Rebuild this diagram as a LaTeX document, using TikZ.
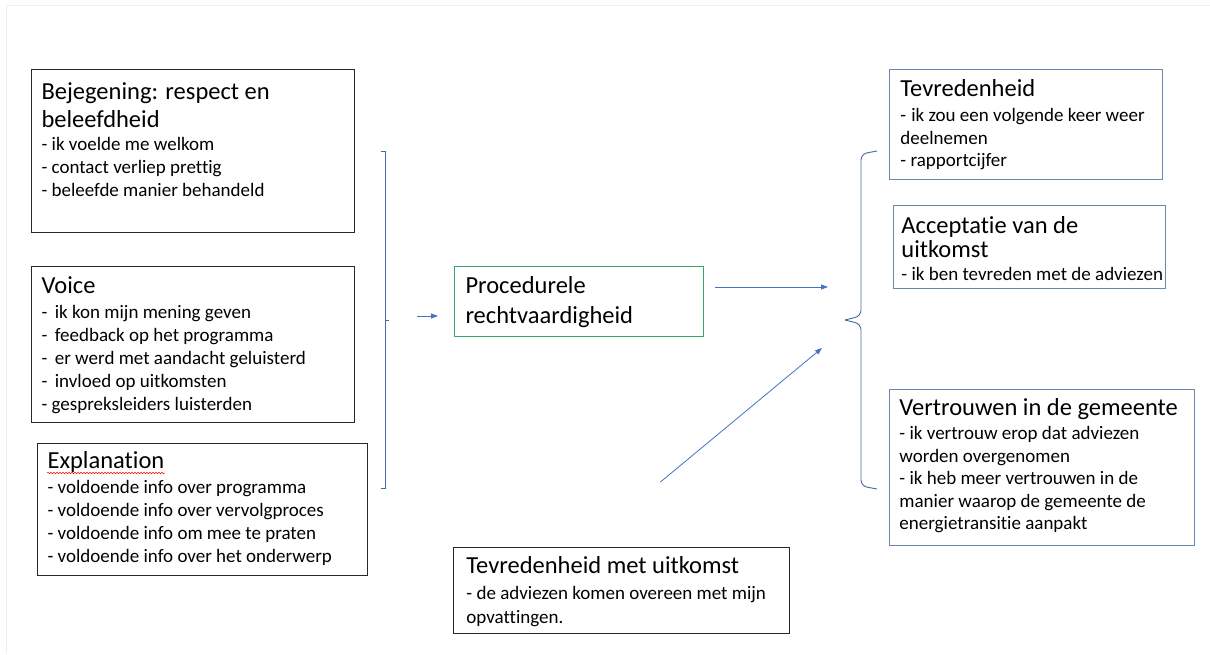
\documentclass[tikz,border=0pt]{standalone}
\usepackage{fontspec}
\setmainfont{Carlito}[Ligatures=NoCommon]
\usetikzlibrary{arrows.meta,decorations.pathmorphing}
\definecolor{arrowblue}{RGB}{68,114,196}
\definecolor{bracketblue}{RGB}{70,105,165}
\definecolor{rboxline}{RGB}{105,135,175}
\definecolor{procgreen}{RGB}{60,165,105}
\definecolor{lboxline}{RGB}{40,40,40}
\definecolor{framegray}{RGB}{240,240,240}
\newcommand{\hd}{\fontsize{24.5}{28}\selectfont}
\newcommand{\itm}{\fontsize{19}{23}\selectfont}
\newcommand{\boxtext}[4]{\parbox[c][#2][t]{#1}{\raggedright\leftskip=#3\relax #4\par}}
\begin{document}
\begin{tikzpicture}[x=1pt,y=1pt]
\tikzstyle{every node}+=[inner sep=0pt]
\tikzstyle{lbox}=[draw=lboxline, line width=1.1pt, anchor=north west]
\tikzstyle{rbox}=[draw=rboxline, line width=0.9pt, anchor=north west]
\tikzstyle{arr}=[arrowblue, line width=0.8pt, -{Triangle[length=7pt,width=5pt]}]
\tikzstyle{brace}=[bracketblue, line width=0.9pt]
\fill [white] (0,0) rectangle (1210,-654);
\useasboundingbox (0,0) rectangle (1210,-654);
\draw [framegray, line width=1pt] (6,-654) -- (6,-5) -- (1210,-5);
\node [lbox] (bej) at (31,-69) {\boxtext{323pt}{163pt}{10pt}{\hd\rule{0pt}{30pt}Bejegening: respect en\\ beleefdheid\par
\itm - ik voelde me welkom\\ - contact verliep prettig\\ - beleefde manier behandeld}};
\node [lbox] (voice) at (31,-266) {\boxtext{323pt}{156pt}{10pt}{\hd\rule{0pt}{27pt}Voice\par\vspace{2pt}
\itm -\hspace{7.5pt}ik kon mijn mening geven\\ -\hspace{7.5pt}feedback op het programma\\ -\hspace{7.5pt}er werd met aandacht geluisterd\\ -\hspace{7.5pt}invloed op uitkomsten\\ - gespreksleiders luisterden}};
\node [lbox] (expl) at (37,-443) {\boxtext{330pt}{132pt}{10pt}{\hd\rule{0pt}{25pt}Explanation\par\vspace{2pt}
\itm - voldoende info over programma\\ - voldoende info over vervolgproces\\ - voldoende info om mee te praten\\ - voldoende info over het onderwerp}};
\draw [red, line width=0.5pt, decorate, decoration={snake, amplitude=0.8pt, segment length=3pt}] ([shift={(10,-30)}]expl.north west) -- ++(118,0);
\node [draw=procgreen, line width=1pt, anchor=north west] (proc) at (454,-266) {\boxtext{249pt}{70pt}{11pt}{\fontsize{24.5}{30}\selectfont\rule{0pt}{27pt}Procedurele\\ rechtvaardigheid}};
\node [lbox, line width=0.9pt] (uitk) at (453,-547) {\boxtext{336pt}{86pt}{13pt}{\hd\rule{0pt}{26pt}Tevredenheid met uitkomst\par\vspace{2pt}
\fontsize{19}{24}\selectfont - de adviezen komen overeen met mijn\\ opvattingen.}};
\node [rbox] (tevr) at (889,-69) {\boxtext{273pt}{110pt}{11pt}{\hd\rule{0pt}{27pt}Tevredenheid\par\vspace{3pt}
\fontsize{19}{22.5}\selectfont -\hspace{5pt}ik zou een volgende keer weer\\ deelnemen\\ - rapportcijfer}};
\node [rbox] (accept) at (893,-205) {\boxtext{272pt}{83pt}{8pt}{\fontsize{24.5}{24}\selectfont\rule{0pt}{28pt}Acceptatie van de\\ uitkomst\par
\itm - ik ben tevreden met de adviezen}};
\node [rbox] (vertr) at (889,-389) {\boxtext{305pt}{156pt}{10pt}{\hd\rule{0pt}{26pt}Vertrouwen in de gemeente\par\vspace{2pt}
\fontsize{19}{22.5}\selectfont - ik vertrouw erop dat adviezen\\ worden overgenomen\\ - ik heb meer vertrouwen in de\\ manier waarop de gemeente de\\ energietransitie aanpakt}};
\coordinate (ltip) at (389,-320);
\draw [brace] (381,-151) -- (385,-151) -- (385,-488) -- (381,-488);
\draw [brace] (385,-320) -- (ltip);
\coordinate (rtip) at (845,-320);
\draw [brace, rounded corners=6pt] (877,-151) -- (861,-154) -- (861,-316) -- (rtip);
\draw [brace, rounded corners=6pt] (rtip) -- (861,-324) -- (861,-486) -- (877,-489);
\draw [arr, shorten <=28pt, shorten >=16pt] (ltip |- 0,-316) -- (proc.west |- 0,-316);
\coordinate (tgt1) at (828,-287);
\draw [arr, shorten <=11pt] (proc.east |- tgt1) -- (tgt1);
\coordinate (src) at ([shift={(39,65)}]uitk.north);
\coordinate (tgt2) at (822,-348);
\draw [arr] (src) -- (tgt2);
\end{tikzpicture}
\end{document}
